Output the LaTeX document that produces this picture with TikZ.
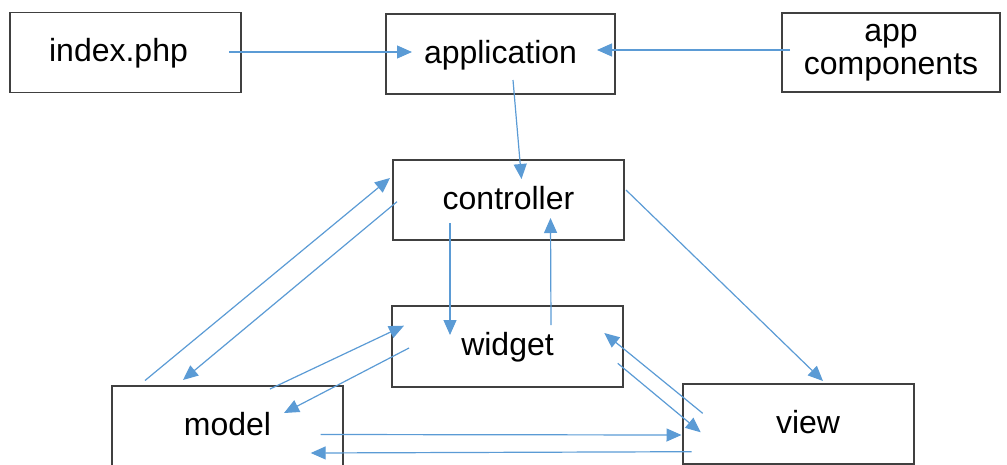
\documentclass[tikz,border=0pt]{standalone}
\usepackage{fontspec}
\setmainfont{Liberation Sans}
\usetikzlibrary{arrows.meta,calc}
\definecolor{arrblue}{HTML}{5B9BD5}
\definecolor{boxline}{HTML}{404040}
\tikzset{
  box/.style={draw=boxline,line width=1.8pt,minimum width=231pt,minimum height=80pt,inner sep=0pt,
    font=\fontsize{32}{33}\selectfont,text height=24pt,text depth=6pt,align=center},
  arr/.style={draw=arrblue,line width=1.2pt,-{Triangle[length=15pt,width=13pt]}}
}
\begin{document}
\begin{tikzpicture}[x=1pt,y=-1pt]
\useasboundingbox (0,0) rectangle (1007,464);
\node[box] (index) at (125.5,52.5) {\hspace*{-14pt}index.php};
\node[box,minimum width=229pt] (app) at (500.5,54) {application};
\node[box,minimum width=218pt,minimum height=79pt,text height=,text depth=] (comp) at (891,52.5) {app\\components};
\node[box] (ctrl) at (508.5,200) {controller};
\node[box,minimum height=81pt] (widget) at (507.5,346.5) {widget};
\node[box] (model) at (227.5,426) {model};
\node[box] (view) at (798.5,424) {\hspace*{19pt}view};

\draw[arr] ($(index.center)+(103.5,-0.5)$) -- ($(app.center)+(-88.5,-2)$);
\draw[arr] ($(comp.center)+(-101,-2.5)$) -- ($(app.center)+(96.5,-4)$);
\draw[arr] ($(app.center)+(12.5,26)$) -- ($(ctrl.center)+(13,-21)$);
\draw[arr] ($(ctrl.center)+(-58.5,23)$) -- ($(widget.center)+(-57.5,-11.5)$);
\draw[arr] ($(widget.center)+(43.5,-21.5)$) -- ($(ctrl.center)+(42,18)$);
\draw[arr] ($(model.center)+(-82.5,-45.5)$) -- ($(ctrl.center)+(-118.5,-22)$);
\draw[arr] ($(ctrl.center)+(-111.5,1.7)$) -- ($(model.center)+(-44.5,-46)$);
\draw[arr] ($(model.center)+(42.5,-37)$) -- ($(widget.center)+(-103.5,-20.8)$);
\draw[arr] ($(widget.center)+(-98.5,1.5)$) -- ($(model.center)+(56.5,-13)$);
\draw[arr] ($(model.center)+(93,8.5)$) -- ($(view.center)+(-117,11)$);
\draw[arr] ($(view.center)+(-106.8,27.7)$) -- ($(model.center)+(83.2,27)$);
\draw[arr] ($(ctrl.center)+(117.5,-10)$) -- ($(view.center)+(24.5,-43)$);
\draw[arr] ($(view.center)+(-95.8,-10.7)$) -- ($(widget.center)+(96.8,-13.5)$);
\draw[arr] ($(widget.center)+(110.2,16.8)$) -- ($(view.center)+(-97.8,8.3)$);
\end{tikzpicture}
\end{document}
